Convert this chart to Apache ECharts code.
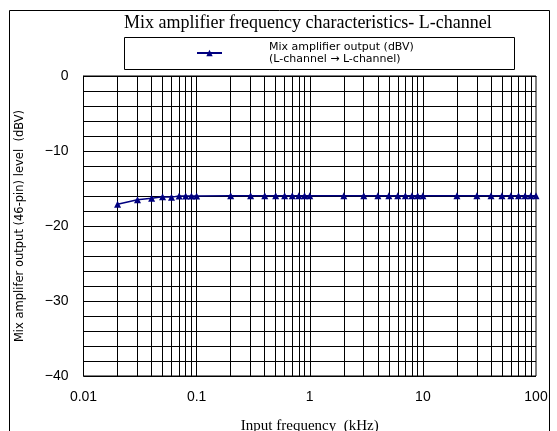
<!DOCTYPE html>
<html>
<head>
<meta charset="utf-8">
<script src="https://cdn.jsdelivr.net/npm/echarts@6/dist/echarts.min.js"></script>
<style>html,body{margin:0;padding:0;background:#fff;}#c{width:557px;height:431px;}</style>
</head>
<body>
<div id="c"></div>
<script>
var titleText = 'Mix amplifier frequency characteristics- L-channel';
var seriesName = 'Mix amplifier output (dBV)\n(L-channel \u2192 L-channel)';
var xAxisName = 'Input frequency  (kHz)';
var yAxisName = 'Mix amplifer output (46-pin) level  (dBV)';
var freqs = [0.02,0.03,0.04,0.05,0.06,0.07,0.08,0.09,0.1,0.2,0.3,0.4,0.5,0.6,0.7,0.8,0.9,1,2,3,4,5,6,7,8,9,10,20,30,40,50,60,70,80,90,100];
var levels = [-17.1,-16.5,-16.3,-16.1,-16.15,-16.0,-16.0,-16.0,-16.0,-15.95,-15.95,-15.95,-15.95,-15.95,-15.95,-15.95,-15.95,-15.95,-15.95,-15.95,-15.95,-15.95,-15.95,-15.95,-15.95,-15.95,-15.95,-15.95,-15.95,-15.95,-15.95,-15.95,-15.95,-15.95,-15.95,-15.95];
var decades = [0.01,0.1,1,10];
var minorMultipliers = [2,3,4,5,6,7,8,9];

var gridX = [];
decades.forEach(function(d){ minorMultipliers.forEach(function(m){ gridX.push(+(d*m).toPrecision(3)); }); });
gridX.push(0.1,1,10);

var chart = echarts.init(document.getElementById('c'));
var sans = 'Liberation Sans';
var wide = 'DejaVu Sans';
var serif = 'Liberation Serif';
chart.setOption({
  animation: false,
  backgroundColor: '#fff',
  title: {
    text: titleText, left: 124, top: 14, padding: 0,
    textStyle: { fontFamily: serif, fontWeight: 'normal', fontSize: 18, color: '#000' }
  },
  legend: {
    data: [{ name: seriesName }],
    left: 196, top: 41, padding: 0,
    itemWidth: 25, itemHeight: 8,
    textStyle: { fontFamily: wide, fontSize: 11, color: '#000', padding: [0,0,0,42], lineHeight: 12 }
  },
  graphic: [
    { type: 'rect', shape: { x: 9.5, y: 10.5, width: 540, height: 440 }, style: { fill: null, stroke: '#000', lineWidth: 1 }, silent: true, z: -1 },
    { type: 'rect', shape: { x: 124.5, y: 37.5, width: 390, height: 32 }, style: { fill: null, stroke: '#000', lineWidth: 1 }, silent: true }
  ],
  grid: { left: 83.5, right: 21, top: 76, bottom: 55, show: true, borderColor: '#000', borderWidth: 1, outerBoundsMode: 'none', containLabel: false },
  xAxis: {
    type: 'log', logBase: 10, min: 0.01, max: 100,
    name: xAxisName, nameLocation: 'middle', nameGap: 43,
    nameTextStyle: { fontFamily: serif, fontSize: 15, color: '#000' },
    axisLine: { show: true, lineStyle: { color: '#000' } },
    axisTick: { show: false },
    splitLine: { show: false },
    axisLabel: { fontFamily: sans, fontSize: 14, color: '#000', margin: 14,
      formatter: function(v){ return String(+v.toPrecision(3)); } }
  },
  yAxis: {
    type: 'value', min: -40, max: 0, interval: 2,
    name: yAxisName, nameLocation: 'middle', nameGap: 57, nameRotate: 90,
    nameTextStyle: { fontFamily: wide, fontSize: 11.5, color: '#000' },
    axisLine: { show: true, lineStyle: { color: '#000' } },
    axisTick: { show: false },
    splitLine: { show: true, lineStyle: { color: '#000', width: 1 } },
    axisLabel: { fontFamily: sans, fontSize: 14, color: '#000', margin: 15,
      formatter: function(v){ return v % 10 === 0 ? String(v).replace('-', '\u2212') : ''; } }
  },
  series: [{
    name: seriesName,
    type: 'line',
    data: freqs.map(function(f,i){ return [f, levels[i]]; }),
    symbol: 'triangle', symbolSize: 7,
    itemStyle: { color: '#000080' },
    lineStyle: { color: '#000080', width: 1.5 },
    z: 5,
    markLine: {
      silent: true, symbol: 'none', label: { show: false },
      lineStyle: { color: '#000', width: 1, type: 'solid' },
      emphasis: { disabled: true },
      data: gridX.map(function(x){ return { xAxis: x }; }),
      z: 1
    }
  }]
});
</script>
</body>
</html>
